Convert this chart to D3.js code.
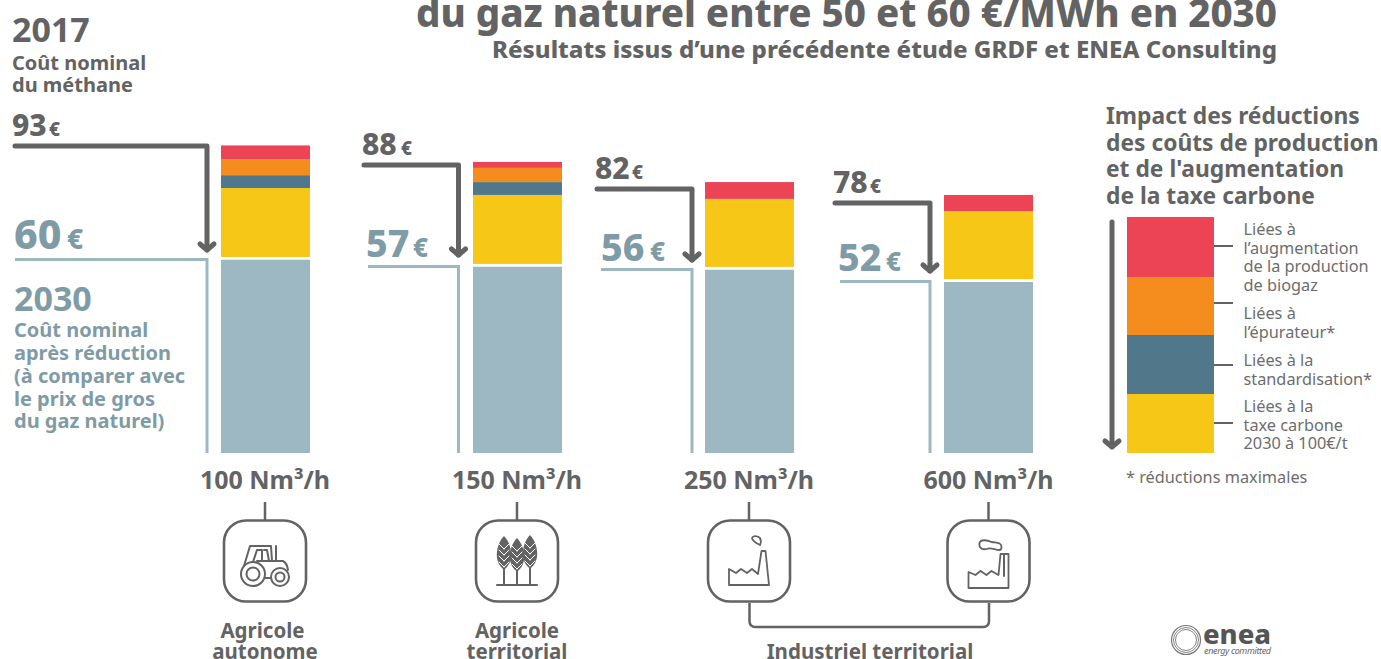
<!DOCTYPE html>
<html><head><meta charset="utf-8">
<script src="https://cdn.jsdelivr.net/npm/d3@7/dist/d3.min.js"></script>
<style>
html,body{margin:0;padding:0;background:#fff;overflow:hidden}
svg{display:block}
text{font-family:"Noto Sans",sans-serif}
</style></head><body>
<svg id="c" width="1381" height="659"></svg>
<script>
const categories=["100 Nm³/h","150 Nm³/h","250 Nm³/h","600 Nm³/h"];
const cost2017=[93,88,82,78];
const cost2030=[60,57,56,52];
const seriesNames=["base","taxe","standard","epurateur","production"];
const base=[59.4,57.3,56.4,52.7];
const taxe=[20.9,20.9,20.6,20.6];
const standard=[3.9,3.9,0,0];
const epurateur=[4.8,4.3,0,0];
const production=[4.2,1.8,5.1,4.9];
const seriesColors=["#9db8c3","#f6c717","#50788a","#f48d1e","#ec4455"];
const legendLabels=[
 ["Liées à","l’augmentation","de la production","de biogaz"],
 ["Liées à","l’épurateur*"],
 ["Liées à la","standardisation*"],
 ["Liées à la","taxe carbone","2030 à 100€/t"]];
const legendValues=[18.2,17.6,17.9,17.9];
const legendColors=["#ec4455","#f48d1e","#50788a","#f6c717"];

const dark="#636363",light="#9db8c3",lightText="#7f9ba6",legendText="#6d6d6d";
const svg=d3.select("#c");
const y=d3.scaleLinear().domain([0,100]).range([453,123]);
const xBar=d3.scaleOrdinal(categories,[221,473,705,944]);
const barW=89;
const xCenter=d3.scaleOrdinal(categories,[265,517,749,988.5]);
const xArrow=d3.scaleOrdinal(categories,[207,458.5,692,930]);
const xDark=d3.scaleOrdinal(categories,[15,364,597,835]);
const xLight=d3.scaleOrdinal(categories,[15,368,601,840]);
const yDark=d3.scaleOrdinal(categories,[146,165,189,203]);
const yLight=d3.scaleOrdinal(categories,[259.5,266.5,269.5,281.5]);
const yTip=d3.scaleOrdinal(categories,[251,256,261,272]);
const xDarkLabel=d3.scaleOrdinal(categories,[12,362,595,833]);
const xDarkEuro=d3.scaleOrdinal(categories,[49,401,632,870]);
const xLightLabel=d3.scaleOrdinal(categories,[14,366,601,838]);
const xLightEuro=d3.scaleOrdinal(categories,[67,413,650,886]);
const yLightLabel=d3.scaleOrdinal(categories,[249,257,261,271]);
const values=[base,taxe,standard,epurateur,production];

function t(x,yy,s,size,fill,opt={}){
 const e=svg.append("text").attr("x",x).attr("y",yy).attr("font-size",size).attr("fill",fill).text(s);
 if(opt.bold!==false)e.attr("font-weight",opt.weight||700);
 if(opt.anchor)e.attr("text-anchor",opt.anchor);
 if(opt.len)e.attr("textLength",opt.len).attr("lengthAdjust","spacingAndGlyphs");
 return e;
}
// titles
t(416,27,"du gaz naturel entre 50 et 60 €/MWh en 2030",40,dark,{len:861,weight:800});
t(492,58,"Résultats issus d’une précédente étude GRDF et ENEA Consulting",23,dark,{len:785,weight:800});
// left notes
t(12,42,"2017",34,dark);
t(12,70,"Coût nominal",20,dark);
t(12,92,"du méthane",20,dark);
t(14,311,"2030",34,lightText);
["Coût nominal","après réduction","(à comparer avec","le prix de gros","du gaz naturel)"].forEach((s,i)=>t(14,[337,360,383,406,428][i],s,20,lightText));

// stacks
categories.forEach((c,i)=>{
 let acc=0;
 values.forEach((v,k)=>{
  const h=v[i]; if(h<=0)return;
  svg.append("rect").attr("x",xBar(c)).attr("width",barW)
   .attr("y",y(acc+h)).attr("height",y(acc)-y(acc+h)).attr("fill",seriesColors[k]);
  acc+=h;
 });
 // white separator between 2030 cost and reductions
 svg.append("line").attr("x1",xBar(c)).attr("x2",xBar(c)+barW)
  .attr("y1",y(base[i])+1.4).attr("y2",y(base[i])+1.4).attr("stroke","#fff").attr("stroke-width",2.8);
 const ax=xArrow(c);
 // light leader
 svg.append("path").attr("d",`M${xLight(c)},${yLight(c)}H${ax}V453`)
  .attr("fill","none").attr("stroke",light).attr("stroke-width",3);
 // dark arrow
 const tip=yTip(c);
 svg.append("path").attr("d",`M${xDark(c)},${yDark(c)}H${ax}V${tip-1}`)
  .attr("fill","none").attr("stroke",dark).attr("stroke-width",5).attr("stroke-linecap","round").attr("stroke-linejoin","round");
 svg.append("path").attr("d",`M${ax-7},${tip-7}L${ax},${tip-1}L${ax+7},${tip-7}`)
  .attr("fill","none").attr("stroke",dark).attr("stroke-width",5).attr("stroke-linecap","round").attr("stroke-linejoin","round");
 // value labels
 t(xDarkLabel(c),yDark(c)-10,String(cost2017[i]),30,dark,{weight:800});
 t(xDarkEuro(c),yDark(c)-10,"€",19,dark,{weight:800});
 const big=i===0?41:37.5;
 t(xLightLabel(c),yLightLabel(c),String(cost2030[i]),big,lightText,{weight:800});
 t(xLightEuro(c),yLightLabel(c),"€",i===0?28:26,lightText,{weight:800});
 // category
 t(xCenter(c),489,c,25,dark,{anchor:"middle"});
 svg.append("line").attr("x1",xCenter(c)).attr("x2",xCenter(c)).attr("y1",502).attr("y2",520).attr("stroke",dark).attr("stroke-width",2.5);
 svg.append("rect").attr("x",xCenter(c)-41).attr("y",520.5).attr("width",82).attr("height",81).attr("rx",22)
  .attr("fill","#fff").attr("stroke",dark).attr("stroke-width",2.6);
});

// connector
svg.append("path").attr("d","M749.5,603V621Q749.5,627 755.5,627H983Q989,627 989,621V603")
 .attr("fill","none").attr("stroke",dark).attr("stroke-width",2.5);

// icons
function icon(cx,cy){return svg.append("g").attr("transform",`translate(${cx},${cy})`).attr("fill","none").attr("stroke",dark).attr("stroke-width",2).attr("stroke-linejoin","round").attr("stroke-linecap","round");}
// tractor
let g=icon(265,561);
g.append("circle").attr("r",12).attr("cx",-12).attr("cy",13);
g.append("circle").attr("r",6.5).attr("cx",-12).attr("cy",13);
g.append("circle").attr("r",9).attr("cx",15).attr("cy",16);
g.append("circle").attr("r",4.5).attr("cx",15).attr("cy",16);
g.append("path").attr("d","M-21,5L-15,-15H6L7,0H18Q22,2 23,9M0,17H6M-8,0H7M-12,1L-8,-11H-3V-1M-1,-11H2L4,0M11,0V-15");
// wheat
g=icon(517,561);
g.append("line").attr("x1",-20).attr("x2",20).attr("y1",24).attr("y2",24);
[[-13,-25],[0,-23],[13,-26]].forEach(([dx,top])=>{
 const w=g.append("g").attr("transform",`translate(${dx},0)`);
 w.append("line").attr("x1",0).attr("x2",0).attr("y1",top+30).attr("y2",24);
 w.append("path").attr("fill",dark).attr("stroke","none").attr("d",`M0,${top}C5,${top+5} 8,${top+14} 7,${top+22}C6,${top+28} 3,${top+31} 0,${top+34}C-3,${top+31} -6,${top+28} -7,${top+22}C-8,${top+14} -5,${top+5} 0,${top}Z`);
 for(let k=0;k<4;k++){const yy=top+9+k*6;
  w.append("path").attr("stroke","#fff").attr("stroke-width",1).attr("d",`M0,${yy+4}L-5,${yy-1}M0,${yy+4}L5,${yy-1}`);}
});
// factory small
g=icon(749,561);
g.append("path").attr("d","M-20,8V24H20L16.5,-10H12.5L9,13L3,8L-2,12L-8,8L-13,12L-20,8Z").attr("stroke-width",1.8);
g.append("path").attr("d","M11,-16C7,-18 3,-20 3,-23C4,-26 9,-25 11,-23C12,-21 12,-18 11,-16Z").attr("stroke-width",1.8);
// factory large
g=icon(988.5,561);
g.append("path").attr("d","M-20,11V27H20V-7H12L10,14L3,10L-2,14L-8,10L-13,14L-20,11Z").attr("stroke-width",1.8);
g.append("path").attr("d","M15.5,-7V15").attr("stroke-width",2);
g.append("path").attr("d","M11,-11C6,-11 3,-14 -2,-12C-6,-11 -10,-13 -9,-18C-8,-22 -1,-21 3,-19C8,-18 13,-19 13,-14C13,-12 12,-11 11,-11Z").attr("stroke-width",1.8);

// lower labels
t(262.5,638,"Agricole",20.5,dark,{anchor:"middle"});
t(265,659,"autonome",20.5,dark,{anchor:"middle"});
t(517,638,"Agricole",20.5,dark,{anchor:"middle"});
t(517,659,"territorial",20.5,dark,{anchor:"middle"});
t(870,659,"Industriel territorial",20.5,dark,{anchor:"middle"});

// legend
["Impact des réductions","des coûts de production","et de l'augmentation","de la taxe carbone"].forEach((s,i)=>t(1106,[124,151,177,204][i],s,22.8,dark));
const ly=d3.scaleLinear().domain([0,d3.sum(legendValues)]).range([217,453]);
let accL=0;
const blockStarts=[235,319,366,412];
const tickY=[246,303,365,423];
legendValues.forEach((v,i)=>{
 svg.append("rect").attr("x",1127).attr("width",87).attr("y",ly(accL)).attr("height",ly(accL+v)-ly(accL)).attr("fill",legendColors[i]);
 accL+=v;
 svg.append("line").attr("x1",1214).attr("x2",1233).attr("y1",tickY[i]).attr("y2",tickY[i]).attr("stroke",dark).attr("stroke-width",2);
 legendLabels[i].forEach((s,k)=>t(1243.5,blockStarts[i]+k*18.7,s,16.3,legendText,{bold:false}));
});
svg.append("path").attr("d","M1112,222V446").attr("fill","none").attr("stroke",dark).attr("stroke-width",5).attr("stroke-linecap","round");
svg.append("path").attr("d","M1105,441L1112,447L1119,441").attr("fill","none").attr("stroke",dark).attr("stroke-width",5).attr("stroke-linecap","round").attr("stroke-linejoin","round");
t(1126,483,"* réductions maximales",16.3,legendText,{bold:false});

// logo
const lg=svg.append("g").attr("fill","none").attr("stroke","#777");
[14.5,12.5,10.5].forEach((r,i)=>lg.append("circle").attr("cx",1186).attr("cy",640).attr("r",r).attr("stroke-width",i==0?1.2:0.9));
t(1203,644,"enea",27,"#555",{weight:800,len:68});
svg.append("text").attr("x",1204).attr("y",654).attr("font-size",9).attr("font-style","italic").attr("fill","#666").attr("textLength",67).text("energy committed");
</script></body></html>
